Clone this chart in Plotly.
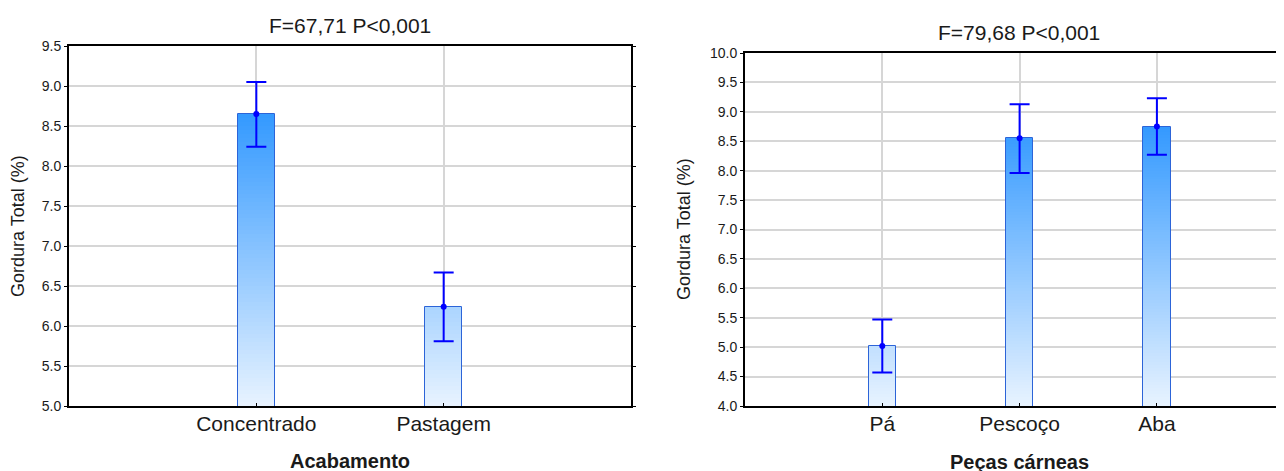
import numpy as np
import plotly.graph_objects as go

# ---------------- data ----------------
acab_cats = ["Concentrado", "Pastagem"]
acab_mean = [8.65, 6.24]
acab_err_plus = [0.40, 0.43]
acab_err_minus = [0.41, 0.43]
acab_title = "F=67,71 P<0,001"
acab_xlabel = "Acabamento"
acab_yticks = [5.0, 5.5, 6.0, 6.5, 7.0, 7.5, 8.0, 8.5, 9.0, 9.5]

pecas_cats = ["Pá", "Pescoço", "Aba"]
pecas_mean = [5.02, 8.55, 8.75]
pecas_err_plus = [0.45, 0.58, 0.48]
pecas_err_minus = [0.45, 0.59, 0.48]
pecas_title = "F=79,68 P<0,001"
pecas_xlabel = "Peças cárneas"
pecas_yticks = [4.0, 4.5, 5.0, 5.5, 6.0, 6.5, 7.0, 7.5, 8.0, 8.5, 9.0, 9.5, 10.0]

ylabel = "Gordura Total (%)"

# ---------------- style ----------------
W, H = 1284, 471
OX, OY = 8, 8  # page body offset of the figure
FONT = "Liberation Sans, Arial, sans-serif"
TXT = "#1a1a1a"
GRID = "#d6d6d6"
LIGHT = np.array([232, 243, 255])
DARK = np.array([51, 153, 255])


def fx(p):
    return (p - OX) / W


def fy(p):
    return (H - (p - OY)) / H


fig = go.Figure()


def add_panel(cats, means, eplus, eminus, xa, ya, y0, step=0.05):
    xs = list(range(len(cats)))
    top = max(means)
    edges = np.arange(y0, top + step, step)
    for lo, hi in zip(edges[:-1], edges[1:]):
        heights = [max(0.0, min(m, hi) - lo) for m in means]
        t = min(max(((lo + hi) / 2 - y0) / (top - y0), 0), 1)
        c = LIGHT + (DARK - LIGHT) * t
        fig.add_trace(go.Bar(
            x=xs, y=heights, base=[lo] * len(xs), width=0.2,
            marker=dict(color=f"rgb({c[0]:.0f},{c[1]:.0f},{c[2]:.0f})", line=dict(width=0)),
            xaxis=xa, yaxis=ya, hoverinfo="skip", showlegend=False))
    fig.add_trace(go.Bar(
        x=xs, y=means, width=0.2,
        marker=dict(color="rgba(0,0,0,0)", line=dict(color="#2c64d8", width=1)),
        error_y=dict(type="data", array=eplus, arrayminus=eminus,
                     color="#0000ff", thickness=2, width=10),
        xaxis=xa, yaxis=ya, showlegend=False))
    fig.add_trace(go.Scatter(
        x=xs, y=means, mode="markers",
        marker=dict(color="#0000ff", size=6),
        xaxis=xa, yaxis=ya, showlegend=False))


add_panel(acab_cats, acab_mean, acab_err_plus, acab_err_minus, "x", "y", acab_yticks[0])
add_panel(pecas_cats, pecas_mean, pecas_err_plus, pecas_err_minus, "x2", "y2", pecas_yticks[0])

common_x = dict(showgrid=True, gridcolor=GRID, gridwidth=1.5, showline=True,
                linecolor="black", linewidth=2, ticks="inside", ticklen=3,
                tickcolor="black", zeroline=False, automargin=False,
                tickfont=dict(family=FONT, size=21, color=TXT), ticklabelstandoff=-2)
common_y = dict(showgrid=True, gridcolor=GRID, gridwidth=1.5, showline=True,
                linecolor="black", linewidth=2, ticks="outside", ticklen=3,
                tickcolor="black", zeroline=False, tickformat=".1f", automargin=False,
                tickfont=dict(family=FONT, size=14, color=TXT))

step_px = 137.3
fig.update_layout(
    width=W, height=H,
    margin=dict(l=0, r=0, t=0, b=0, autoexpand=False),
    paper_bgcolor="white", plot_bgcolor="white",
    barmode="overlay", bargap=0,
    xaxis=dict(common_x, domain=[fx(69), fx(631)], range=[-1, 2],
               tickvals=list(range(len(acab_cats))), ticktext=acab_cats,
               mirror=True, anchor="y"),
    yaxis=dict(common_y, domain=[fy(406), fy(46)], range=[acab_yticks[0], acab_yticks[-1]],
               tickvals=acab_yticks, mirror="ticks", anchor="x"),
    xaxis2=dict(common_x, domain=[fx(745), 1],
                range=[-1, -1 + (W + OX - 745) / step_px],
                tickvals=list(range(len(pecas_cats))), ticktext=pecas_cats,
                mirror=True, anchor="y2"),
    yaxis2=dict(common_y, domain=[fy(406), fy(53)], range=[pecas_yticks[0], pecas_yticks[-1]],
                tickvals=pecas_yticks, anchor="x2"),
    font=dict(family=FONT, color=TXT),
)

ann = []
# titles
ann.append(dict(text=acab_title, x=fx(350), y=fy(26), xref="paper", yref="paper",
                xanchor="center", yanchor="middle", showarrow=False,
                font=dict(family=FONT, size=21, color=TXT)))
ann.append(dict(text=pecas_title, x=fx(1019), y=fy(33), xref="paper", yref="paper",
                xanchor="center", yanchor="middle", showarrow=False,
                font=dict(family=FONT, size=21, color=TXT)))
# x titles
ann.append(dict(text=f"<b>{acab_xlabel}</b>", x=fx(350), y=fy(461), xref="paper", yref="paper",
                xanchor="center", yanchor="middle", showarrow=False,
                font=dict(family=FONT, size=20, color=TXT)))
ann.append(dict(text=f"<b>{pecas_xlabel}</b>", x=fx(1019), y=fy(462), xref="paper", yref="paper",
                xanchor="center", yanchor="middle", showarrow=False,
                font=dict(family=FONT, size=20, color=TXT)))
# y titles
ann.append(dict(text=ylabel, x=fx(18), y=fy(226), xref="paper", yref="paper",
                xanchor="center", yanchor="middle", showarrow=False, textangle=-90,
                font=dict(family=FONT, size=18, color=TXT)))
ann.append(dict(text=ylabel, x=fx(684), y=fy(229), xref="paper", yref="paper",
                xanchor="center", yanchor="middle", showarrow=False, textangle=-90,
                font=dict(family=FONT, size=18, color=TXT)))
fig.update_layout(annotations=ann)

fig.write_html("out.html")
